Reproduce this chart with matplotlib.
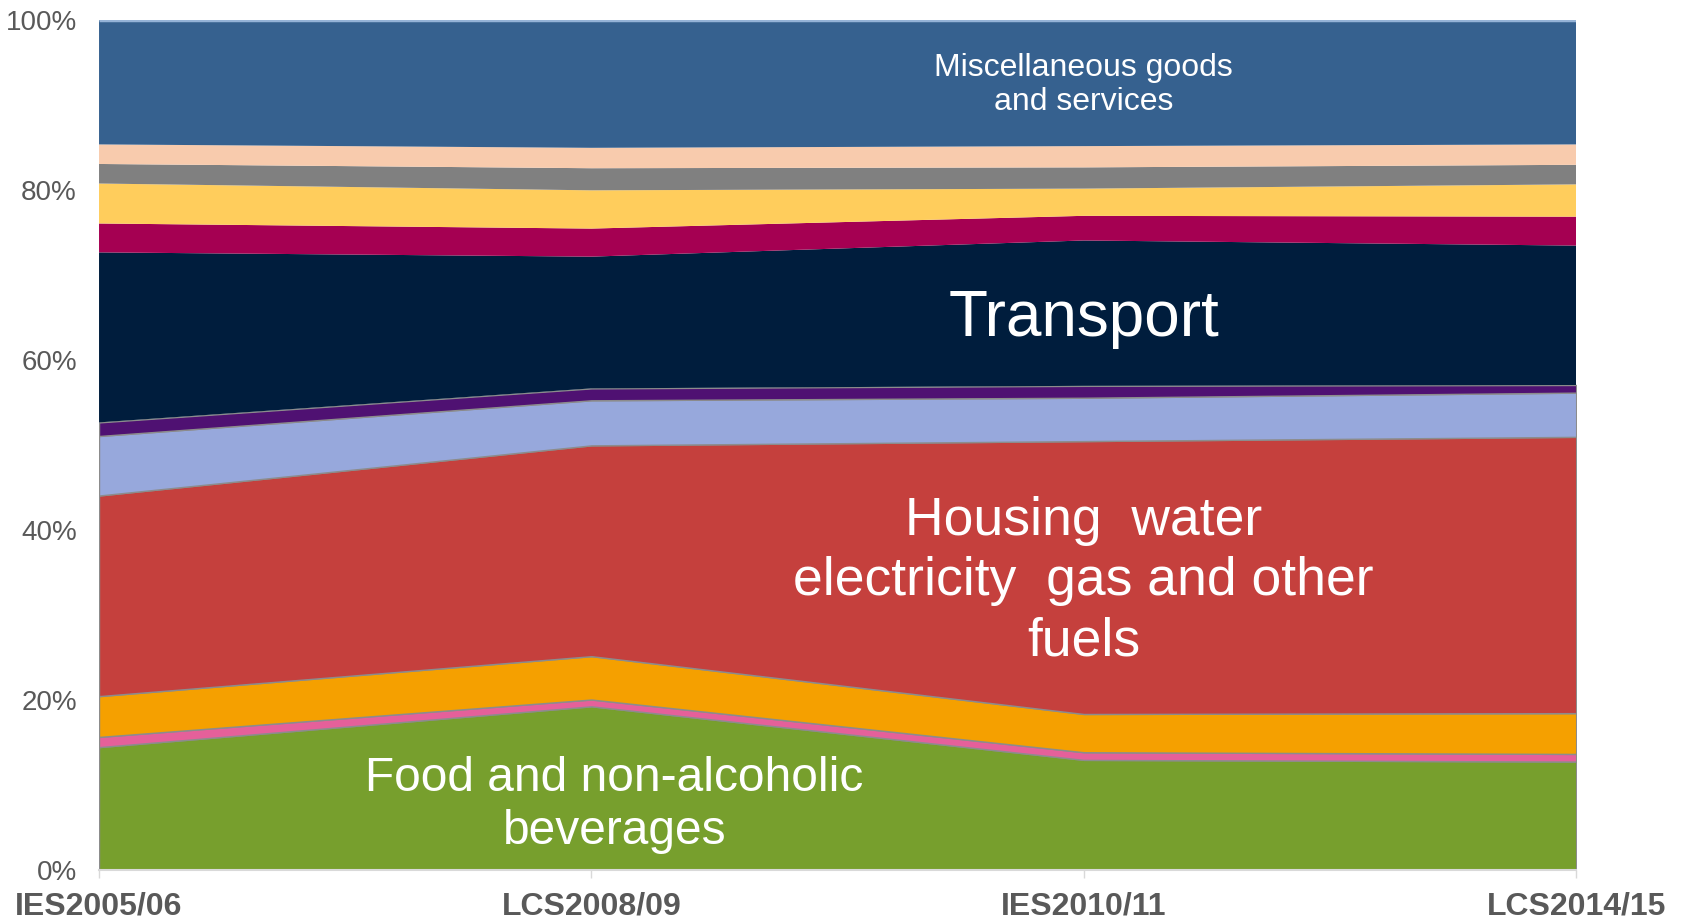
import matplotlib.pyplot as plt

plt.rcParams['font.family'] = ['Liberation Sans', 'DejaVu Sans']

surveys = ['IES2005/06', 'LCS2008/09', 'IES2010/11', 'LCS2014/15']

# share of household spending (%) by category, bottom of the stack first
food = [14.5, 19.3, 13.0, 12.8]
alcohol = [1.2, 0.8, 0.9, 0.9]
clothing = [4.8, 5.1, 4.5, 4.8]
housing = [23.6, 24.8, 32.1, 32.5]
furnishings = [7.0, 5.3, 5.1, 5.2]
health = [1.6, 1.4, 1.4, 0.9]
transport = [20.0, 15.5, 17.1, 16.4]
communication = [3.4, 3.3, 2.9, 3.4]
recreation = [4.7, 4.5, 3.2, 3.8]
education = [2.3, 2.6, 2.5, 2.3]
restaurants = [2.3, 2.4, 2.5, 2.4]
misc = [14.6, 15.0, 14.8, 14.6]

series = [food, alcohol, clothing, housing, furnishings, health, transport,
          communication, recreation, education, restaurants, misc]
colors = ['#779F2D', '#E5609A', '#F5A000', '#C5403D', '#97A8DC', '#4F1172',
          '#001D3D', '#A50052', '#FFCD5C', '#808080', '#F8CBAD', '#36618F']
outlined = [True, True, True, True, True, True,
            False, False, False, False, False, False]

fig = plt.figure(figsize=(16.87, 9.23), dpi=100)
ax = fig.add_axes([0.0587, 0.057, 0.8756, 0.921])

x = list(range(len(surveys)))
polys = ax.stackplot(x, *series, colors=colors)
for p, edge in zip(polys, outlined):
    if edge:
        p.set_edgecolor('#8C8C8C')
        p.set_linewidth(1.0)
    else:
        p.set_edgecolor('none')

ax.plot([0, 3], [100, 100], color='#95B3D7', lw=2.5, solid_capstyle='butt')

ax.set_xlim(0, 3)
ax.set_ylim(0, 100)
ax.set_xticks(x)
ax.set_xticklabels(surveys, fontsize=23, fontweight='bold', color='#595959')
ax.set_yticks(range(0, 101, 20))
ax.set_yticklabels([f'{v}%' for v in range(0, 101, 20)], fontsize=20, color='#595959')
ax.tick_params(axis='y', length=0, pad=16)
ax.tick_params(axis='x', length=6, width=1, color='#D9D9D9', pad=9)

for side in ['top', 'right', 'left']:
    ax.spines[side].set_visible(False)
ax.spines['bottom'].set_color('#D9D9D9')
ax.spines['bottom'].set_linewidth(1.5)

ax.text(2.0, 92.4, 'Miscellaneous goods\nand services', ha='center', va='center',
        fontsize=23, color='white', linespacing=1.2)
ax.text(2.0, 64.9, 'Transport', ha='center', va='center', fontsize=46, color='white')
ax.text(2.0, 34.0, 'Housing  water\nelectricity  gas and other\nfuels', ha='center',
        va='center', fontsize=38.5, color='white', linespacing=1.26)
ax.text(1.047, 7.7, 'Food and non-alcoholic\nbeverages', ha='center', va='center',
        fontsize=34.5, color='white', linespacing=1.22)

fig.savefig('out.png', dpi=100)
